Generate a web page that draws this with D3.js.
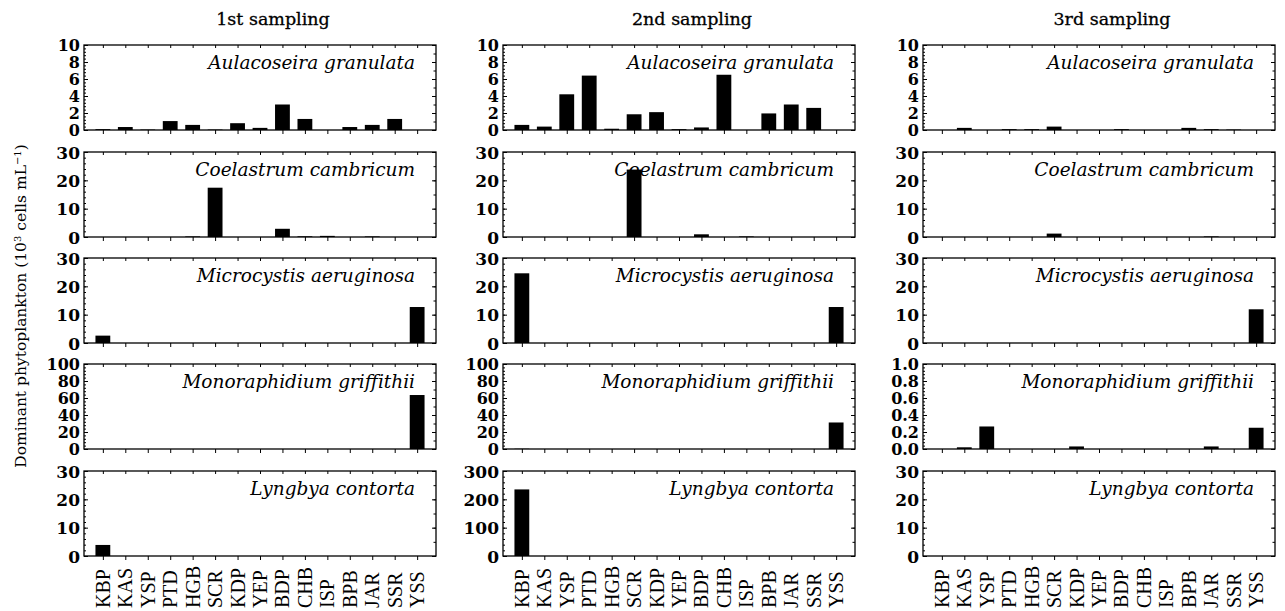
<!DOCTYPE html>
<html>
<head>
<meta charset="utf-8">
<script src="https://cdn.jsdelivr.net/npm/d3@7"></script>
<style>
  body { margin: 0; background: #fff; }
  svg { display: block; }
</style>
</head>
<body>
<svg id="chart" width="1285" height="611"></svg>
<script>
// sampling sites along x
const categories = ["KBP", "KAS", "YSP", "PTD", "HGB", "SCR", "KDP", "YEP", "BDP", "CHB", "ISP", "BPB", "JAR", "SSR", "YSS"];
const samplings = ["1st sampling", "2nd sampling", "3rd sampling"];
const species = ["Aulacoseira granulata", "Coelastrum cambricum", "Microcystis aeruginosa", "Monoraphidium griffithii", "Lyngbya contorta"];

// values per species: [1st, 2nd, 3rd] sampling, 10^3 cells/mL
const aulacoseira = [
  [0.1, 0.35, 0.05, 1.05, 0.6, 0.05, 0.8, 0.25, 3.0, 1.3, 0, 0.35, 0.6, 1.3, 0],
  [0.6, 0.4, 4.2, 6.4, 0.15, 1.85, 2.1, 0.1, 0.3, 6.5, 0, 1.95, 3.0, 2.6, 0],
  [0, 0.25, 0, 0.1, 0.1, 0.4, 0, 0, 0.1, 0, 0, 0.25, 0.1, 0.05, 0]
];
const coelastrum = [
  [0, 0, 0, 0, 0.2, 17.4, 0, 0, 2.9, 0.25, 0.4, 0, 0.2, 0, 0],
  [0, 0, 0, 0, 0, 23.8, 0, 0, 0.95, 0, 0.2, 0, 0, 0, 0],
  [0, 0, 0, 0, 0, 1.2, 0, 0, 0, 0, 0, 0, 0.2, 0, 0]
];
const microcystis = [
  [2.6, 0, 0, 0, 0, 0, 0, 0, 0, 0, 0, 0, 0, 0, 12.7],
  [24.6, 0, 0, 0, 0, 0, 0, 0, 0, 0, 0, 0, 0, 0, 12.7],
  [0, 0, 0, 0, 0, 0, 0, 0, 0, 0, 0, 0, 0, 0, 11.9]
];
const monoraphidium = [
  [0, 0, 0, 0, 0, 0, 0, 0, 0, 0, 0, 0, 0, 0, 63.5],
  [0.3, 0, 0, 0, 0, 0, 0, 0, 0, 0, 0, 0, 0, 0, 31.2],
  [0, 0.02, 0.265, 0, 0, 0, 0.03, 0, 0, 0, 0, 0, 0.03, 0, 0.25]
];
const lyngbya = [
  [3.9, 0, 0, 0, 0, 0, 0, 0, 0, 0, 0, 0, 0, 0, 0],
  [235, 0, 0, 0, 0, 0, 0, 0, 0, 0, 0, 0, 0, 0, 0],
  [0, 0, 0, 0, 0, 0, 0, 0, 0, 0, 0, 0, 0, 0, 0]
];
const values = [aulacoseira, coelastrum, microcystis, monoraphidium, lyngbya];

// y axis max and major tick step per panel [row][col]
const yMax = [[10, 10, 10], [30, 30, 30], [30, 30, 30], [100, 100, 1], [30, 300, 30]];
const yStep = [[2, 2, 2], [10, 10, 10], [10, 10, 10], [20, 20, 0.2], [10, 100, 10]];

const svg = d3.select("#chart");
const serif = "'DejaVu Serif', serif";

//panel layout
const colLeft = [84, 503, 923];
const rowTop = [45, 152, 258, 364, 471];
const pw = 352, ph = 85;

const x = d3.scalePoint().domain(categories).range([0, pw]).padding(0.84);
const bw = x.step() * 0.66;

samplings.forEach((s, c) => {
  //column titles
  svg.append("text")
    .attr("x", colLeft[c] + pw / 2 + 13)
    .attr("y", 25)
    .attr("text-anchor", "middle")
    .attr("font-family", serif)
    .attr("font-size", 17.5)
    .attr("stroke", "#000")
    .attr("stroke-width", 0.3)
    .text(s);

  species.forEach((sp, r) => {
    const g = svg.append("g").attr("transform", `translate(${colLeft[c]},${rowTop[r]})`);
    const max = yMax[r][c], step = yStep[r][c];
    const y = d3.scaleLinear().domain([0, max]).range([ph, 0]);
    const majors = d3.range(0, max + step / 2, step);
    const fmt = step < 1 ? d3.format(".1f") : d3.format("d");
    // tightly stacked labels in the 6-tick panels
    const labelSize = majors.length > 4 ? 16 : 17;

    //bars
    g.selectAll("rect.bar")
      .data(values[r][c])
      .join("rect")
      .attr("class", "bar")
      .attr("x", (d, i) => x(categories[i]) - bw / 2)
      .attr("y", d => y(d))
      .attr("width", bw)
      .attr("height", d => ph - y(d))
      .attr("fill", "#000");

    //left axis with labels
    const left = g.append("g")
      .call(d3.axisLeft(y).tickValues(majors).tickSize(-4).tickPadding(4).tickFormat(fmt));
    left.select(".domain").remove();
    left.selectAll("text")
      .attr("font-family", serif)
      .attr("font-weight", "bold")
      .attr("font-size", labelSize)
      .attr("dy", "0.36em")
      .attr("fill", "#000");
    // dense minor ticks on the left
    g.append("g")
      .call(d3.axisLeft(y).tickValues(d3.range(0, max + step / 20, step / 5)).tickSize(-2).tickFormat(""))
      .select(".domain").remove();
    // right side ticks
    const right = g.append("g").attr("transform", `translate(${pw},0)`);
    right.call(d3.axisRight(y).tickValues(majors).tickSize(-4).tickFormat(""));
    right.append("g")
      .call(d3.axisRight(y).tickValues(d3.range(0, max + step / 4, step / 2)).tickSize(-2.5).tickFormat(""));
    right.selectAll(".domain").remove();

    //bottom category ticks
    const bottom = g.append("g").attr("transform", `translate(0,${ph})`)
      .call(d3.axisBottom(x).tickSize(4).tickFormat(""));
    bottom.select(".domain").remove();
    const top = g.append("g").call(d3.axisBottom(x).tickSize(3).tickFormat(""));
    top.select(".domain").remove();

    //frame
    g.append("rect")
      .attr("width", pw).attr("height", ph)
      .attr("fill", "none").attr("stroke", "#000").attr("stroke-width", 1.3);

    //species name
    g.append("text")
      .attr("x", pw - 21)
      .attr("y", 24)
      .attr("text-anchor", "end")
      .attr("font-family", serif)
      .attr("font-style", "italic")
      .attr("font-size", 18.5)
      .text(sp);

    //category labels under bottom row
    if (r === species.length - 1) {
      g.selectAll("text.cat")
        .data(categories)
        .join("text")
        .attr("class", "cat")
        .attr("transform", d => `translate(${x(d) + 7},${ph + 52}) rotate(-90)`)
        .attr("font-family", "'Liberation Serif', serif")
        .attr("font-size", 20)
        .text(d => d);
    }
  });
});

//y axis title
const ylab = svg.append("text")
  .attr("transform", "translate(26,306) rotate(-90)")
  .attr("text-anchor", "middle")
  .attr("font-family", serif)
  .attr("font-size", 15.5);
ylab.append("tspan").text("Dominant phytoplankton (10");
ylab.append("tspan").attr("baseline-shift", "super").attr("font-size", 10).text("3");
ylab.append("tspan").text(" cells mL");
ylab.append("tspan").attr("baseline-shift", "super").attr("font-size", 10).text("−1");
ylab.append("tspan").text(")");
</script>
</body>
</html>
